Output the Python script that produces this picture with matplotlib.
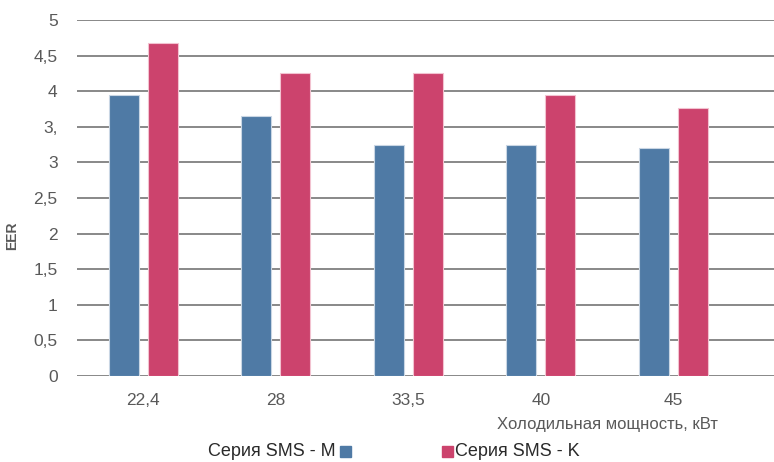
import matplotlib.pyplot as plt
from matplotlib.patches import Rectangle
import numpy as np

plt.rcParams['font.family'] = ['Liberation Sans', 'DejaVu Sans']

capacity = ['22,4', '28', '33,5', '40', '45']
eer_m = [3.94, 3.65, 3.25, 3.25, 3.20]
eer_k = [4.67, 4.26, 4.26, 3.94, 3.77]
y_ticks = [0, 0.5, 1, 1.5, 2, 2.5, 3, 3.5, 4, 4.5, 5]
y_labels = ['0', '0,5', '1', '1,5', '2', '2,5', '3', '3,', '4', '4,5', '5']
series_names = ['Серия SMS - M', 'Серия SMS - K']

blue = '#4f7aa5'
pink = '#cc436d'
text_gray = '#595959'

fig = plt.figure(figsize=(7.74, 4.62), dpi=100)
ax = fig.add_axes([77 / 774, 86 / 462, 1 - 77 / 774, 356 / 462])

x = np.arange(len(capacity))
w = 0.227
off = 0.147
ax.bar(x - off, eer_m, w, color=blue, edgecolor='#c9d6e4', linewidth=0.8, zorder=3)
ax.bar(x + off, eer_k, w, color=pink, edgecolor='#f2c2d0', linewidth=0.8, zorder=3)

ax.set_xlim(-0.5, 4.76)
ax.set_ylim(0, 5)
ax.set_yticks(y_ticks)
ax.set_yticklabels(y_labels)
ax.set_xticks(x)
ax.set_xticklabels(capacity)
ax.tick_params(axis='both', length=0, labelsize=12.5, labelcolor=text_gray)
ax.tick_params(axis='y', pad=14)
ax.tick_params(axis='x', pad=12)
ax.grid(axis='y', color='#7f7f7f', linewidth=1.3, zorder=0)
for s in ax.spines.values():
    s.set_visible(False)

ax.set_ylabel('EER', fontsize=10, fontweight='bold', color=text_gray)
ax.yaxis.set_label_coords(-0.083, 0.395)

fig.text(718 / 774, 1 - 424 / 462, 'Холодильная мощность, кВт', ha='right', va='center',
         fontsize=12, color=text_gray)

# legend row along the bottom edge
ly = 1 - 452 / 462
fig.text(336 / 774, ly, series_names[0], ha='right', va='center', fontsize=13, color='#2a2a2a')
fig.patches.append(Rectangle((340 / 774, ly - 5 / 462), 11 / 774, 11 / 462,
                             transform=fig.transFigure, color=blue))
fig.patches.append(Rectangle((442 / 774, ly - 5 / 462), 11 / 774, 11 / 462,
                             transform=fig.transFigure, color=pink))
fig.text(455 / 774, ly, series_names[1], ha='left', va='center', fontsize=13, color='#2a2a2a')

fig.savefig('out.png', dpi=100)
